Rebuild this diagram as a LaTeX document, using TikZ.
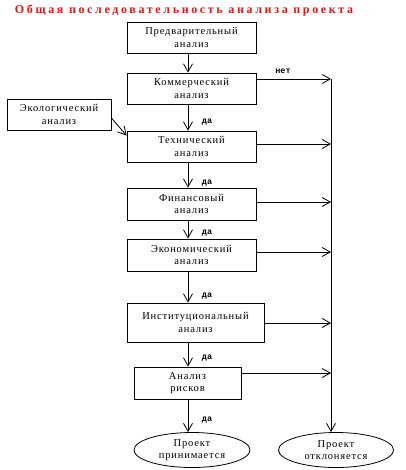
\documentclass[tikz,border=0pt]{standalone}
\usepackage{fontspec}
\setmainfont{Liberation Serif}
\newfontfamily\titlefont[LetterSpace=22]{Liberation Serif}
\newfontfamily\boxfont[LetterSpace=8]{Liberation Serif}
\newfontfamily\lblfont{Liberation Mono}
\usetikzlibrary{arrows.meta,shapes.geometric}
\definecolor{titlered}{RGB}{230,20,20}
\tikzset{
  box/.style={draw, line width=0.8pt, minimum width=129pt, minimum height=31pt, inner sep=1pt, align=center, font=\boxfont\fontsize{10.5}{12.5}\selectfont},
  oval/.style={draw, ellipse, line width=0.8pt, minimum width=116pt, minimum height=35pt, inner sep=0pt, align=center, font=\boxfont\fontsize{10.5}{12.5}\selectfont},
  arr/.style={line width=0.8pt, -{Straight Barb[length=8pt,width=9pt]}},
  lbl/.style={font=\lblfont\bfseries\fontsize{8.5}{9}\selectfont, inner sep=0pt}
}
\begin{document}
\begin{tikzpicture}[x=1pt,y=-1pt]
\useasboundingbox (0,0) rectangle (405,470);
\node[font=\titlefont\bfseries\fontsize{12}{14}\selectfont, text=titlered, inner sep=0pt] (title) at (184,10) {Общая последовательность анализа проекта};

\node[box] (b1) at (191.5,37.5) {Предварительный\\анализ};
\node[box] (b2) at (191.5,88.5) {Коммерческий\\анализ};
\node[box, minimum width=104pt] (eco) at (59,114.5) {Экологический\\анализ};
\node[box] (b3) at (191.5,146.5) {Технический\\анализ};
\node[box, minimum height=32pt] (b4) at (191.5,204) {Финансовый\\анализ};
\node[box, minimum height=32pt] (b5) at (191.5,255) {Экономический\\анализ};
\node[box, minimum width=137pt, minimum height=39pt] (b6) at (195.5,322.5) {Институциональный\\анализ};
\node[box, minimum width=107pt, minimum height=32pt] (b7) at (187.5,383) {Анализ\\рисков};
\node[oval] (e1) at (192,450) {Проект\\принимается};
\node[oval, minimum width=115pt] (e2) at (336,450) {Проект\\отклоняется};

\coordinate (spine) at (188,0);
\coordinate (rail) at (331,79);

\draw[arr] (b1.south -| spine) -- (b2.north -| spine);
\draw[arr] (b2.south -| spine) -- (b3.north -| spine);
\draw[arr] (b3.south -| spine) -- (b4.north -| spine);
\draw[arr] (b4.south -| spine) -- (b5.north -| spine);
\draw[arr] (b5.south -| spine) -- (b6.north -| spine);
\draw[arr] (b6.south -| spine) -- (b7.north -| spine);
\draw[arr] (b7.south -| spine) -- (e1.north -| spine);

\draw[arr] ([yshift=9.5pt]b2.east) -- ([yshift=9.5pt]b2.east -| rail);
\draw[arr] ([yshift=2.5pt]b3.east) -- ([yshift=2.5pt]b3.east -| rail);
\draw[arr] ([yshift=2pt]b4.east) -- ([yshift=2pt]b4.east -| rail);
\draw[arr] ([yshift=3pt]b5.east) -- ([yshift=3pt]b5.east -| rail);
\draw[arr] ([yshift=-0.5pt]b6.east) -- ([yshift=-0.5pt]b6.east -| rail);
\draw[arr] ([yshift=10pt]b7.east) -- ([yshift=10pt]b7.east -| rail);
\draw[arr] (rail) -- (e2.north -| rail);

\draw[arr] ([yshift=-3.5pt]eco.east) -- ([yshift=-5pt]b3.north west);

\node[lbl] (nlbl) at (283,71) {нет};
\node[lbl] (d1) at (207,122) {да};
\node[lbl] (d2) at (207,183) {да};
\node[lbl] (d3) at (207,233) {да};
\node[lbl] (d4) at (207,296) {да};
\node[lbl] (d5) at (207,358) {да};
\node[lbl] (d6) at (207,420) {да};
\end{tikzpicture}
\end{document}
